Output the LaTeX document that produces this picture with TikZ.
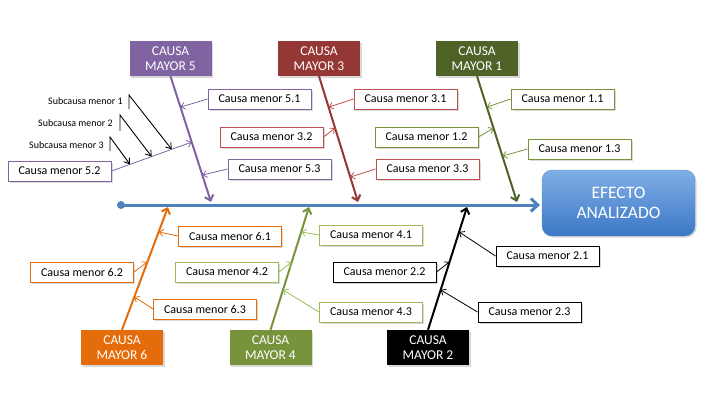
\documentclass[tikz,border=0pt]{standalone}
\usepackage{fontspec}
\setmainfont{Carlito}
\usetikzlibrary{arrows.meta,shadows,calc}
\definecolor{cPurple}{HTML}{8064A2}
\definecolor{cRed}{HTML}{953735}
\definecolor{cRedL}{HTML}{C0504D}
\definecolor{cGreenD}{HTML}{4F6228}
\definecolor{cGreen}{HTML}{77933C}
\definecolor{cGreenL}{HTML}{9BBB59}
\definecolor{cOrange}{HTML}{E46C0A}
\definecolor{cBlue}{HTML}{4F81BD}
\definecolor{cBlueT}{HTML}{7FAEE6}
\definecolor{cBlueB}{HTML}{3C78C6}
\begin{document}
\begin{tikzpicture}[x=1pt,y=-1pt,
  shad/.style={drop shadow={opacity=0.3,shadow xshift=1.5pt,shadow yshift=-1.5pt}},
  major/.style={fill=#1, text=white, minimum width=82pt, minimum height=35pt,
    inner sep=0pt, align=center, font=\fontsize{13.5}{15}\selectfont, shad},
  minor/.style={draw=#1, line width=1pt, fill=white, minimum width=103pt,
    minimum height=20pt, inner sep=0pt, font=\fontsize{12}{14}\selectfont, shad},
  mline/.style={draw=#1, line width=2pt, -{Straight Barb[length=5pt,width=9pt]}},
  sline/.style={draw=#1, line width=0.8pt, -{Straight Barb[length=4pt,width=7pt]}},
  subl/.style={inner sep=0pt, anchor=east, font=\fontsize{10}{12}\selectfont},
  subarrow/.style={draw=black, line width=0.9pt, -{Straight Barb[length=5pt,width=7pt]}}
]
\useasboundingbox (0,0) rectangle (720,405);

% spine and effect
\node[rounded corners=10pt, top color=cBlueT, bottom color=cBlueB, draw=cBlueB!80!white,
  minimum width=153pt, minimum height=66pt, inner sep=0pt, text=white, align=center,
  font=\fontsize{17.5}{20}\selectfont, shad] (efecto) at (618.5,203) {EFECTO\\ANALIZADO};
\coordinate (spL) at (121,205);
\coordinate (spR) at (540,205);
\fill[cBlue] (spL) circle (4);
\draw[cBlue, line width=3pt, -{Straight Barb[length=7pt,width=13pt]}] (spL) -- (spR);

% major causes
\node[major=cPurple] (M5) at (170.5,58.5) {CAUSA\\MAYOR 5};
\node[major=cRed] (M3) at (319,58.5) {CAUSA\\MAYOR 3};
\node[major=cGreenD] (M1) at (477,58.5) {CAUSA\\MAYOR 1};
\node[major=cOrange] (M6) at (122,347.5) {CAUSA\\MAYOR 6};
\node[major=cGreen] (M4) at (270.5,347.5) {CAUSA\\MAYOR 4};
\node[major=black] (M2) at (428,347.5) {CAUSA\\MAYOR 2};

\coordinate (t5) at (211,202);
\coordinate (t3) at (358,202);
\coordinate (t1) at (517,202);
\coordinate (b6) at (168,207);
\coordinate (b4) at (309,207);
\coordinate (b2) at (467,207);

\draw[mline=cPurple] (M5.south) -- (t5);
\draw[mline=cRed] (M3.south) -- (t3);
\draw[mline=cGreenD] (M1.south) -- (t1);
\draw[mline=cOrange] (M6.north) -- (b6);
\draw[mline=cGreen] (M4.north) -- (b4);
\draw[mline=black] (M2.north) -- (b2);

% points on major lines
\coordinate (a51) at ($(M5.south)!0.246!(t5)$);
\coordinate (a52) at ($(M5.south)!0.524!(t5)$);
\coordinate (a53) at ($(M5.south)!0.786!(t5)$);
\coordinate (a31) at ($(M3.south)!0.246!(t3)$);
\coordinate (a32) at ($(M3.south)!0.413!(t3)$);
\coordinate (a33) at ($(M3.south)!0.802!(t3)$);
\coordinate (a11) at ($(M1.south)!0.246!(t1)$);
\coordinate (a12) at ($(M1.south)!0.413!(t1)$);
\coordinate (a13) at ($(M1.south)!0.635!(t1)$);
\coordinate (a61) at ($(M6.north)!0.797!(b6)$);
\coordinate (a62) at ($(M6.north)!0.553!(b6)$);
\coordinate (a63) at ($(M6.north)!0.268!(b6)$);
\coordinate (a41) at ($(M4.north)!0.797!(b4)$);
\coordinate (a42) at ($(M4.north)!0.553!(b4)$);
\coordinate (a43) at ($(M4.north)!0.325!(b4)$);
\coordinate (a21) at ($(M2.north)!0.797!(b2)$);
\coordinate (a22) at ($(M2.north)!0.553!(b2)$);
\coordinate (a23) at ($(M2.north)!0.325!(b2)$);

% minor causes top
\node[minor=cPurple] (n51) at (259.5,99) {Causa menor 5.1};
\node[minor=cRedL] (n32) at (271.5,137) {Causa menor 3.2};
\node[minor=cPurple] (n53) at (279.5,169) {Causa menor 5.3};
\node[minor=cRedL] (n31) at (405.5,99) {Causa menor 3.1};
\node[minor=cGreen] (n12) at (426.5,137) {Causa menor 1.2};
\node[minor=cRedL] (n33) at (427.5,169) {Causa menor 3.3};
\node[minor=cGreen] (n11) at (562.5,99) {Causa menor 1.1};
\node[minor=cGreen] (n13) at (579.5,149) {Causa menor 1.3};
\node[minor=cPurple] (n52) at (59.5,171) {Causa menor 5.2};

\draw[sline=cPurple] (n51.west) -- (a51);
\draw[sline=cRedL] (n32.east) -- (a32);
\draw[sline=cPurple] (n53.west) -- (a53);
\draw[sline=cRedL] (n31.west) -- (a31);
\draw[sline=cGreen] (n12.east) -- (a12);
\draw[sline=cRedL] (n33.west) -- (a33);
\draw[sline=cGreen] (n11.west) -- (a11);
\draw[sline=cGreen] (n13.west) -- (a13);
\draw[sline=cPurple] (n52.east) -- (a52);

% subcauses
\node[subl] (s1) at (123,101) {Subcausa menor 1};
\node[subl] (s2) at (113,123) {Subcausa menor 2};
\node[subl] (s3) at (104,145) {Subcausa menor 3};
\coordinate (e1) at ($(n52.east)!0.75!(a52)$);
\coordinate (e2) at ($(n52.east)!0.50!(a52)$);
\coordinate (e3) at ($(n52.east)!0.23!(a52)$);
\draw[subarrow] ($(s1.east)+(6,8)$) -- ($(s1.east)+(6,-6)$) -- (e1);
\draw[subarrow] ($(s2.east)+(7,8)$) -- ($(s2.east)+(7,-8)$) -- (e2);
\draw[subarrow] ($(s3.east)+(6,6)$) -- ($(s3.east)+(6,-8)$) -- (e3);

% minor causes bottom
\node[minor=cOrange] (n61) at (230,236) {Causa menor 6.1};
\node[minor=cOrange] (n62) at (82,272) {Causa menor 6.2};
\node[minor=cOrange] (n63) at (205,309) {Causa menor 6.3};
\node[minor=cGreenL] (n42) at (227,272) {Causa menor 4.2};
\node[minor=cGreenL] (n41) at (371,235) {Causa menor 4.1};
\node[minor=cGreenL] (n43) at (371,312) {Causa menor 4.3};
\node[minor=black] (n22) at (384.5,272) {Causa menor 2.2};
\node[minor=black] (n21) at (547.5,256) {Causa menor 2.1};
\node[minor=black] (n23) at (529.5,312) {Causa menor 2.3};

\draw[sline=cOrange] (n61.west) -- (a61);
\draw[sline=cOrange] (n62.east) -- (a62);
\draw[sline=cOrange] (n63.west) -- (a63);
\draw[sline=cGreenL] (n42.east) -- (a42);
\draw[sline=cGreenL] (n41.west) -- (a41);
\draw[sline=cGreenL] (n43.west) -- (a43);
\draw[sline=black] (n22.east) -- (a22);
\draw[sline=black] (n21.west) -- (a21);
\draw[sline=black] (n23.west) -- (a23);
\end{tikzpicture}
\end{document}
